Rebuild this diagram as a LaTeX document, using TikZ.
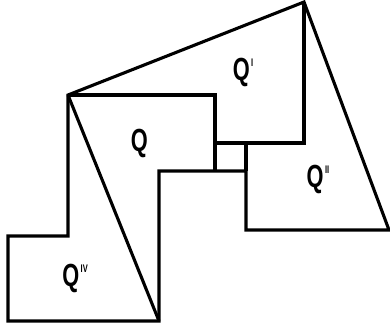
\documentclass[tikz,border=0pt]{standalone}
\usepackage{fontspec}
\newfontfamily\labfont{Liberation Sans}[UprightFont=* Bold,FakeStretch=0.68]
\newcommand{\qlab}[1]{{\labfont\fontsize{32}{32}\selectfont Q\hspace{1.5pt}\raisebox{14pt}{\fontsize{11}{11}\selectfont #1}}}
\begin{document}
\begin{tikzpicture}[x=1pt,y=-1pt,
  edge/.style={line width=3.1pt,line join=miter,line cap=butt},
  lab/.style={inner sep=0pt}]
\useasboundingbox (0,0) rectangle (390,326);
% vertices
\coordinate (A) at (68,95);
\coordinate (T) at (304,2);
\coordinate (R) at (389,230);
\coordinate (Q2bl) at (246,230);
\coordinate (Sbr) at (246,171);
\coordinate (Sbl) at (215,171);
\coordinate (Str) at (246,143);
\coordinate (Stl) at (215,143);
\coordinate (Qtr) at (215,95);
\coordinate (Q1br) at (304,143);
\coordinate (Qbl) at (159,171);
\coordinate (B) at (159,321);
\coordinate (Lb) at (8,321);
\coordinate (Lt) at (8,236);
\coordinate (Lm) at (68,236);
% outline
\draw[edge] (A) -- (T) -- (R) -- (Q2bl) -- (Sbr) -- (Qbl) -- (B) -- (Lb) -- (Lt) -- (Lm) -- cycle;
\draw[edge] (A) -- (Qtr) -- (Sbl);
\draw[edge] (Stl) -- (Q1br) -- (T);
\draw[edge] (Str) -- (Sbr);
\draw[edge] (A) -- (B);
% labels
\node[lab] (q) at (140,143) {\qlab{}};
\node[lab] (q1) at (243,72) {\qlab{I}};
\node[lab] (q2) at (318,179) {\qlab{II}};
\node[lab] (q4) at (75,278) {\qlab{IV}};
\end{tikzpicture}
\end{document}
